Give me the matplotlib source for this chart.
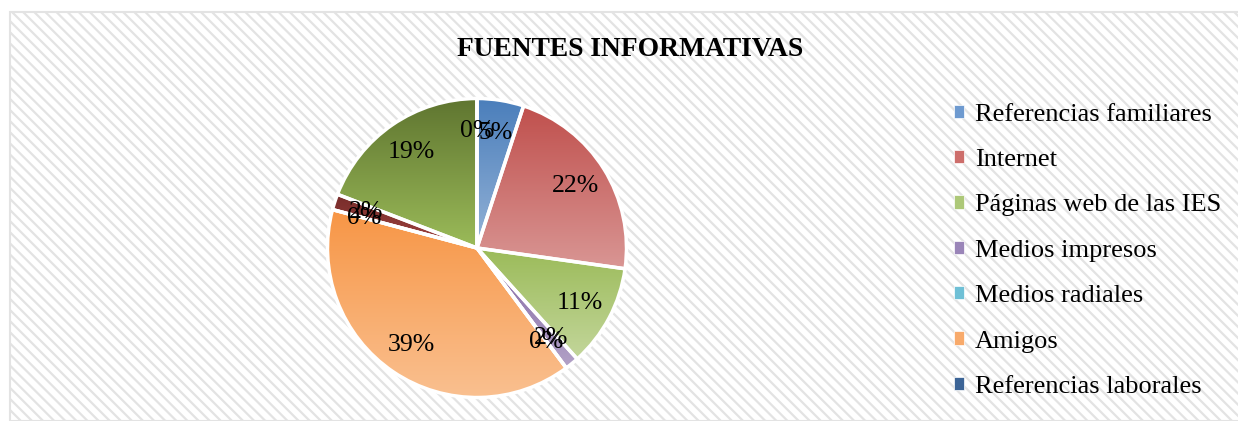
import numpy as np
import matplotlib
matplotlib.use("Agg")
import matplotlib.pyplot as plt
from matplotlib.patches import Rectangle, Patch
from matplotlib.colors import to_rgb

plt.rcParams['font.family'] = ['Liberation Serif', 'DejaVu Serif']
plt.rcParams['hatch.linewidth'] = 1.6

# categories shown in the legend (the legend of the original is cut after 7 entries)
legend_labels = ["Referencias familiares", "Internet", "Páginas web de las IES",
                 "Medios impresos", "Medios radiales", "Amigos",
                 "Referencias laborales"]
# percentage of each slice, clockwise from 12 o'clock (last 3 slices unnamed in the legend)
values = [5, 22, 11, 1.5, 0, 39, 0, 1.7, 19, 0]

# gradient colours per slice: top -> bottom
top_colors = ["#4A7EBB", "#C0504D", "#9BBB59", "#8064A2", "#4BACC6", "#F79646",
              "#2C4D75", "#772C2A", "#5F7530", "#4D3B62"]
bottom_colors = ["#95B3D7", "#D99694", "#C3D69B", "#B3A2C7", "#93CDDD", "#FAC090",
                 "#4F81BD", "#A04340", "#9BBB59", "#8064A2"]

W, H = 1238, 421
fig = plt.figure(figsize=(W / 100, H / 100), dpi=100)
fig.patch.set_facecolor("white")

# striped chart background with light border
bg = Rectangle((10 / W, 0), 1 - 10 / W + 0.01, 1 - 12 / H, transform=fig.transFigure,
               facecolor="white", edgecolor="#e3e3e3", hatch="\\\\\\", linewidth=1.5, zorder=-1)
fig.patches.append(bg)

fig.text(630 / W, 1 - 50 / H, "FUENTES INFORMATIVAS", ha="center", va="center",
         fontsize=19.8, fontweight="bold")

cx, cy, r = 477, H - 248, 151
ax = fig.add_axes([(cx - r) / W, (cy - r) / H, 2 * r / W, 2 * r / H])
ax.set_axis_off()

wedges, texts, autotexts = ax.pie(values, startangle=90, counterclock=False,
                                  autopct="%1.0f%%", pctdistance=0.78,
                                  wedgeprops=dict(edgecolor="white", linewidth=2.5),
                                  textprops=dict(fontsize=18.5, color="black"))


def gradient_fill(ax, wedge, c_top, c_bot):
    bb = wedge.get_path().get_extents()
    t = np.linspace(0, 1, 200)[:, None]
    ct, cb = np.array(to_rgb(c_top)), np.array(to_rgb(c_bot))
    img = (1 - t)[:, :, None] * ct + t[:, :, None] * cb
    img = np.repeat(img, 2, axis=1)
    im = ax.imshow(img, extent=[bb.x0, bb.x1, bb.y0, bb.y1], origin="upper",
                   aspect="auto", zorder=1, interpolation="bilinear")
    im.set_clip_path(wedge)


for w, ct, cb in zip(wedges, top_colors, bottom_colors):
    gradient_fill(ax, w, ct, cb)
    w.set_facecolor("none")
    w.set_zorder(2)
for t in autotexts:
    t.set_zorder(3)

ax.set_xlim(-1.01, 1.01)
ax.set_ylim(-1.01, 1.01)
ax.set_aspect("equal")

mid_colors = ["#6E9AD0", "#CD6E6B", "#ADC878", "#9A85B8", "#6FC0D6", "#F8AA6B", "#3C6496"]
handles = [Patch(facecolor=c, edgecolor="white", linewidth=0.5) for c in mid_colors]
fig.legend(handles, legend_labels, loc="upper left", bbox_to_anchor=(930 / W, 1 - 80 / H),
           frameon=False, fontsize=19, handlelength=0.4, handleheight=0.4,
           handletextpad=0.4, labelspacing=0.885)

fig.savefig("out.png", dpi=100)
